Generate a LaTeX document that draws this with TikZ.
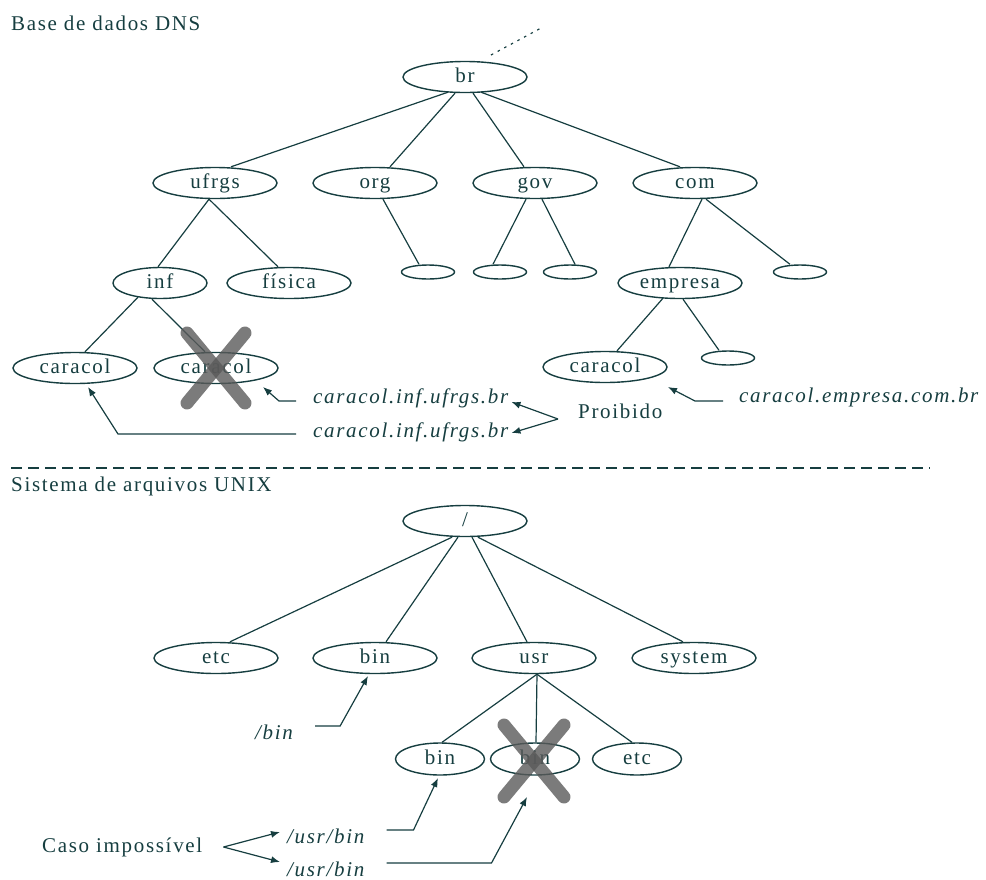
\documentclass[tikz,border=0pt]{standalone}
\usepackage{fontspec}
\setmainfont{Liberation Serif}[LetterSpace=8]
\usetikzlibrary{shapes.geometric,arrows.meta,calc}
\definecolor{ink}{RGB}{22,62,64}
\definecolor{crossgray}{RGB}{90,90,90}
\begin{document}
\begin{tikzpicture}[x=1pt,y=-1pt,
  every node/.style={font=\fontsize{21}{25}\selectfont, text=ink},
  big/.style={ellipse, draw=ink, line width=1.4pt, minimum width=124pt, minimum height=31pt, inner sep=0pt, text height=14pt, text depth=4pt},
  mid/.style={big, minimum width=89pt, minimum height=32pt},
  tiny/.style={ellipse, draw=ink, line width=1.4pt, minimum width=53pt, minimum height=14pt, inner sep=0pt},
  link/.style={draw=ink, line width=1.2pt},
  arr/.style={link, -{Latex[length=9pt,width=7pt]}},
  lbl/.style={font=\fontsize{21}{25}\selectfont\itshape, anchor=base west, inner sep=0pt},
  txt/.style={anchor=base west, inner sep=0pt},
  cross/.style={draw=crossgray, line width=13pt, line cap=round, opacity=0.8}
]
\useasboundingbox (0,0) rectangle (986,879);

% ---------- DNS tree ----------
\node[txt] (title1) at (11,30) {Base de dados DNS};
\node[big] (br) at (465,77) {br};
\coordinate (above) at (543,27);
\draw[link, dash pattern=on 2.5pt off 5pt] ($(br.center)+(26,-22)$) -- (above);

\node[big] (ufrgs) at (215,183) {ufrgs};
\node[big] (org) at (375,183) {org};
\node[big] (gov) at (535,183) {gov};
\node[big] (com) at (695,183) {com};

\node[big, minimum width=94pt] (inf) at (160,283) {inf};
\node[big] (fisica) at (289,283) {física};
\node[tiny] (o1) at (428,272) {};
\node[tiny] (g1) at (500,272) {};
\node[tiny] (g2) at (570,272) {};
\node[big] (empresa) at (680,283) {empresa};
\node[tiny] (c1) at (800,272) {};

\node[big] (car1) at (75,368) {caracol};
\node[big] (car2) at (216,368) {caracol};
\node[big] (car3) at (605,367) {caracol};
\node[tiny] (e2) at (728,358) {};

\draw[link] ($(br.south)+(-17,-1)$) -- ($(ufrgs.north)+(16,0)$);
\draw[link] ($(br.south)+(-10,0)$) -- ($(org.north)+(15,0)$);
\draw[link] ($(br.south)+(8,0)$) -- ($(gov.north)+(-11,0)$);
\draw[link] ($(br.south)+(16,-1)$) -- ($(com.north)+(-15,0)$);

\draw[link] ($(ufrgs.south)+(-6,0)$) -- ($(inf.north)+(-2,0)$);
\draw[link] ($(ufrgs.south)+(-6,0)$) -- ($(fisica.north)+(-11,0)$);
\draw[link] ($(org.south)+(8,0)$) -- ($(o1.north)+(-9,0)$);
\draw[link] ($(gov.south)+(-9,0)$) -- ($(g1.north)+(-7,0)$);
\draw[link] ($(gov.south)+(7,0)$) -- ($(g2.north)+(5,0)$);
\draw[link] ($(com.south)+(7,0)$) -- ($(empresa.north)+(-11,0)$);
\draw[link] ($(com.south)+(11,0)$) -- ($(c1.north)+(-10,0)$);

\draw[link] ($(inf.south)+(-22,-2)$) -- ($(car1.north)+(10,0)$);
\draw[link] ($(inf.south)+(-8,0)$) -- ($(car2.north)+(-11,0)$);
\draw[link] ($(empresa.south)+(-17,-1)$) -- ($(car3.north)+(12,0)$);
\draw[link] ($(empresa.south)+(3,0)$) -- ($(e2.north)+(-9,0)$);

\draw[cross] ($(car2.center)+(-29,-35)$) -- ($(car2.center)+(29,35)$);
\draw[cross] ($(car2.center)+(29,-35)$) -- ($(car2.center)+(-29,35)$);

\node[lbl] (t1) at (313,403) {caracol.inf.ufrgs.br};
\node[lbl] (t2) at (313,437) {caracol.inf.ufrgs.br};
\node[txt] (proib) at (578,418) {Proibido};
\node[lbl] (t3) at (739,402) {caracol.empresa.com.br};

\draw[arr] ($(t1.base west)+(-17,-2)$) -- ++(-17,0) -- ($(car2.center)+(47,19)$);
\draw[arr] ($(t2.base west)+(-17,-3)$) -- ++(-178,0) -- ($(car1.center)+(13,19)$);
\draw[arr] ($(proib.base west)+(-20,1)$) -- ($(t1.base east)+(3,-1)$);
\draw[arr] ($(proib.base west)+(-20,1)$) -- ($(t2.base east)+(3,-4)$);
\draw[arr] ($(t3.base west)+(-16,-1)$) -- ++(-28,0) -- ($(car3.center)+(63,20)$);

% ---------- separator ----------
\coordinate (sepL) at (11,468);
\coordinate (sepR) at (930,468);
\draw[link, dash pattern=on 11pt off 6pt] (sepL) -- (sepR);

% ---------- UNIX tree ----------
\node[txt] (title2) at (11,491) {Sistema de arquivos UNIX};
\node[big] (root) at (465,521) {/};

\node[big] (etc) at (216,658) {etc};
\node[big] (bin) at (375,658) {bin};
\node[big] (usr) at (534,658) {usr};
\node[big] (system) at (694,658) {system};

\node[mid] (lbin) at (440,759) {bin};
\node[mid] (xbin) at (535,759) {bin};
\node[mid] (letc) at (637,759) {etc};

\draw[link] ($(root.south)+(-13,0)$) -- ($(etc.north)+(14,0)$);
\draw[link] ($(root.south)+(-7,0)$) -- ($(bin.north)+(11,0)$);
\draw[link] ($(root.south)+(7,0)$) -- ($(usr.north)+(-7,0)$);
\draw[link] ($(root.south)+(13,0)$) -- ($(system.north)+(-11,0)$);

\draw[link] ($(usr.south)+(3,0)$) -- ($(lbin.north)+(2,0)$);
\draw[link] ($(usr.south)+(3,0)$) -- ($(xbin.north)+(1,0)$);
\draw[link] ($(usr.south)+(3,0)$) -- ($(letc.north)+(-5,0)$);

\draw[cross] ($(xbin.center)+(-31,-34)$) -- ($(xbin.center)+(29,38)$);
\draw[cross] ($(xbin.center)+(29,-34)$) -- ($(xbin.center)+(-31,38)$);

\node[lbl] (tbin) at (255,739) {/bin};
\node[lbl] (tub1) at (287,843) {/usr/bin};
\node[lbl] (tub2) at (287,876) {/usr/bin};
\node[txt] (caso) at (42,852) {Caso impossível};

\draw[arr] ($(tbin.base east)+(22,-13)$) -- ++(25,0) -- ($(bin.center)+(-7,18)$);
\draw[arr] ($(tub1.base east)+(22,-13)$) -- ++(27,0) -- ($(lbin.center)+(-2,19)$);
\draw[arr] ($(tub2.base east)+(22,-13)$) -- ++(105,0) -- ($(xbin.center)+(-8,38)$);
\draw[arr] ($(caso.base east)+(21,-5)$) -- ($(tub1.base west)+(-7,-11)$);
\draw[arr] ($(caso.base east)+(21,-5)$) -- ($(tub2.base west)+(-7,-14)$);
\end{tikzpicture}
\end{document}
